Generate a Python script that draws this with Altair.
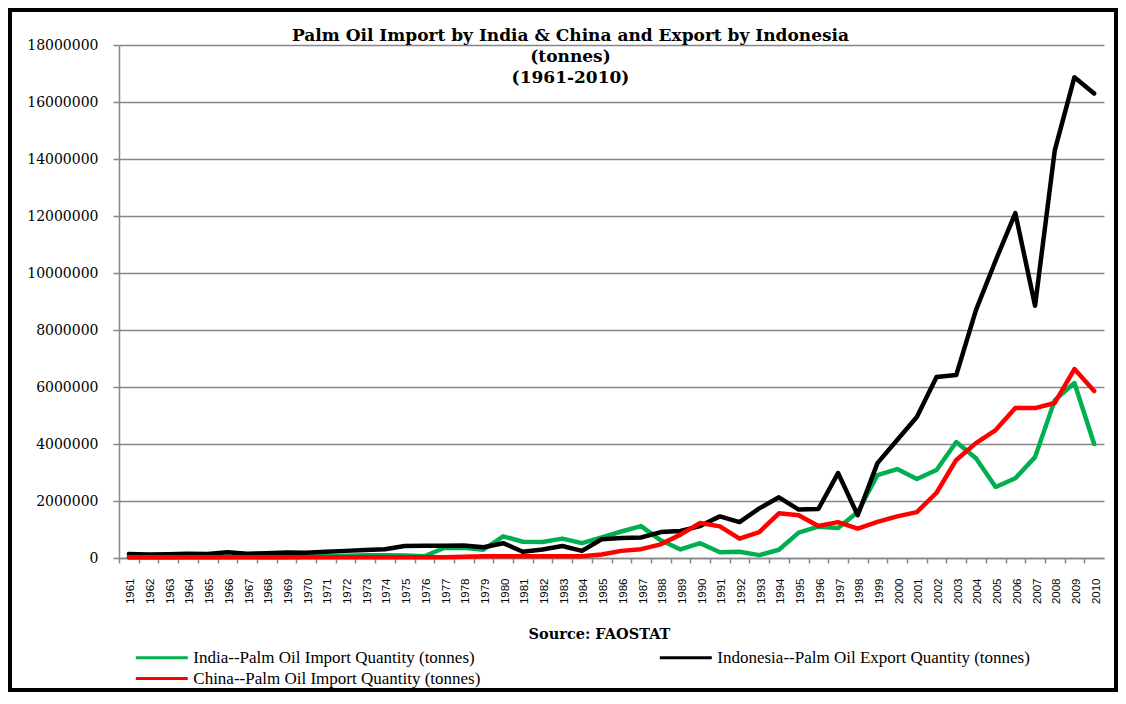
import altair as alt
import pandas as pd

years = [str(y) for y in range(1961, 2011)]

india = [20000, 20000, 20000, 30000, 30000, 30000, 40000, 30000, 30000, 40000,
         60000, 80000, 100000, 100000, 90000, 60000, 350000, 360000, 290000, 760000,
         570000, 560000, 680000, 520000, 720000, 930000, 1120000, 620000, 300000, 520000,
         200000, 220000, 100000, 290000, 890000, 1100000, 1050000, 1610000, 2910000, 3120000,
         2770000, 3090000, 4070000, 3500000, 2490000, 2800000, 3540000, 5540000, 6140000, 4000000]

indonesia = [140000, 120000, 130000, 150000, 140000, 200000, 150000, 170000, 190000, 180000,
             220000, 250000, 280000, 310000, 420000, 430000, 430000, 440000, 380000, 520000,
             220000, 300000, 420000, 250000, 660000, 700000, 720000, 910000, 950000, 1120000,
             1460000, 1260000, 1740000, 2130000, 1700000, 1720000, 2980000, 1500000, 3330000, 4140000,
             4950000, 6350000, 6420000, 8700000, 10440000, 12100000, 8850000, 14300000, 16870000, 16300000]

china = [30000, 30000, 30000, 30000, 30000, 30000, 30000, 30000, 30000, 30000,
         30000, 30000, 30000, 30000, 30000, 30000, 30000, 40000, 60000, 60000,
         60000, 60000, 60000, 60000, 120000, 250000, 310000, 480000, 820000, 1230000,
         1110000, 680000, 910000, 1570000, 1500000, 1120000, 1260000, 1030000, 1270000, 1460000,
         1610000, 2290000, 3440000, 4030000, 4490000, 5260000, 5260000, 5440000, 6630000, 5860000]

S_INDIA = "India--Palm Oil Import Quantity (tonnes)"
S_INDO = "Indonesia--Palm Oil Export Quantity (tonnes)"
S_CHINA = "China--Palm Oil Import Quantity (tonnes)"
# legend grid fills column by column: India, China in column 1, Indonesia in column 2
legend_order = [S_INDIA, S_CHINA, S_INDO]
legend_colors = ["#00B050", "#FF0000", "#000000"]
draw_order = [S_INDIA, S_INDO, S_CHINA]
y_ticks = list(range(0, 18000001, 2000000))

rows = []
for name, vals in zip([S_INDIA, S_INDO, S_CHINA], [india, indonesia, china]):
    for yr, v in zip(years, vals):
        rows.append({"Year": yr, "Series": name, "Value": v})
df = pd.DataFrame(rows)

W, H = 985, 513
step = W / len(years)
GRAY = "#868686"

x_enc = alt.X(
    "Year:O",
    sort=years,
    scale=alt.Scale(type="point", padding=0.5),
    axis=alt.Axis(
        title="Source: FAOSTAT",
        titleFont="DejaVu Serif", titleFontWeight="bold", titleFontSize=14.5,
        titleColor="black", titlePadding=24, titleX=480, titleAlign="center",
        labelAngle=-90, labelFont="Liberation Sans", labelFontSize=11.5,
        labelColor="black", labelPadding=15,
        tickOffset=-step / 2, labelOffset=step / 2 + 2,
        tickSize=5, tickColor=GRAY, tickWidth=1.5,
        domainColor=GRAY, domainWidth=1.5, grid=False,
    ),
)
y_enc = alt.Y(
    "Value:Q",
    scale=alt.Scale(domain=[0, 18000000], nice=False),
    axis=alt.Axis(
        title=None, values=y_ticks, format="d",
        labelFont="DejaVu Serif", labelFontSize=14, labelColor="black",
        labelPadding=15, tickSize=6, tickColor=GRAY, tickWidth=1.5,
        domainColor=GRAY, domainWidth=1.5,
        grid=True, gridColor=GRAY, gridWidth=1.5,
    ),
)
color_enc = alt.Color(
    "Series:N",
    scale=alt.Scale(domain=legend_order, range=legend_colors),
    legend=alt.Legend(
        title=None, orient="none", legendX=15, legendY=602,
        columns=2, columnPadding=172, rowPadding=2,
        symbolType="M-3,0H3", symbolSize=300, symbolOffset=17.3,
        symbolStrokeWidth=3, labelOffset=21,
        labelFont="Liberation Serif", labelFontSize=17, labelColor="black",
        labelLimit=400,
    ),
)

base = alt.Chart(df)
layers = []
for name in draw_order:
    layers.append(
        base.transform_filter(alt.datum.Series == name)
        .mark_line(strokeWidth=4.5, strokeJoin="round", strokeCap="round")
        .encode(x=x_enc, y=y_enc, color=color_enc)
    )

frame = alt.Chart(alt.Data(values=[{"f": 1}])).mark_rect(
    filled=False, stroke="black", strokeWidth=4
).encode(
    x=alt.value(-109), x2=alt.value(W + 12), y=alt.value(-35), y2=alt.value(H + 132)
)

chart = alt.layer(*layers, frame).properties(
    width=W, height=H,
    autosize="none",
    padding={"left": 111, "top": 37, "right": 14, "bottom": 134},
    title=alt.TitleParams(
        text=["Palm Oil Import by India & China and Export by Indonesia", "(tonnes)", "(1961-2010)"],
        font="DejaVu Serif", fontSize=17, fontWeight="bold", color="black",
        anchor="middle", frame="group", dx=-41, dy=79, offset=0, lineHeight=21,
    ),
).configure_view(strokeWidth=0)

chart.save("out.html", embed_options={"renderer": "svg", "actions": False})
